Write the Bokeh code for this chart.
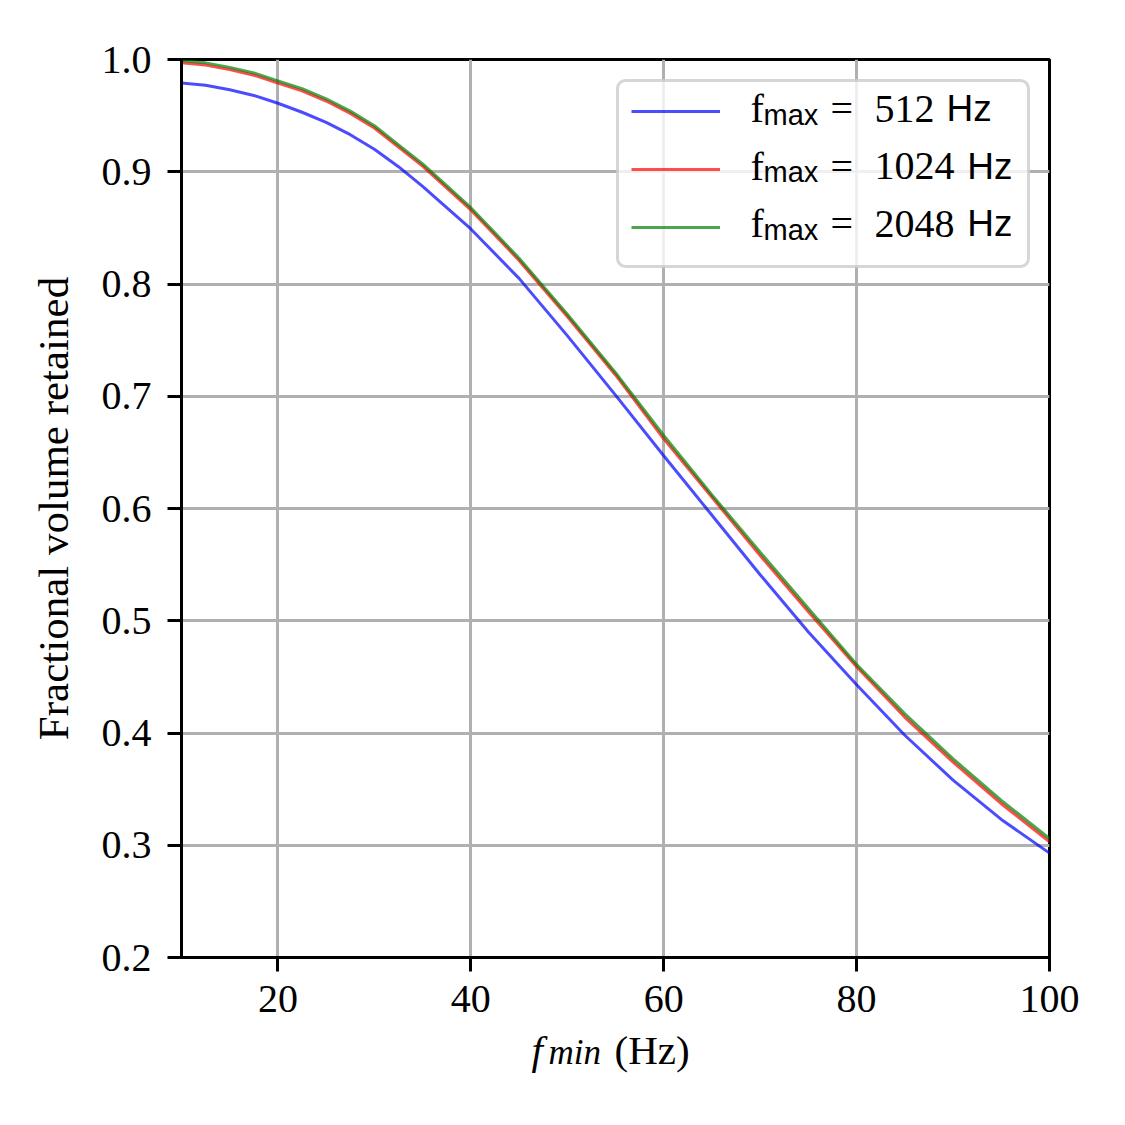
from bokeh.plotting import figure
from bokeh.layouts import column
from bokeh.models import (Range1d, FixedTicker, NumeralTickFormatter, Legend, LegendItem,
                          Label, BoxAnnotation)
from bokeh.embed import file_html
from bokeh.resources import INLINE

# ---- data ----
f_min = [10, 12.5, 15, 17.5, 20, 22.5, 25, 27.5, 30, 32.5, 35, 40, 45, 50, 55,
         60, 65, 70, 75, 80, 85, 90, 95, 100]
vol_512 = [0.979, 0.977, 0.973, 0.968, 0.961, 0.953, 0.944, 0.933, 0.920, 0.9045, 0.887,
           0.849, 0.805, 0.754, 0.701, 0.647, 0.594, 0.541, 0.490, 0.443, 0.398,
           0.358, 0.323, 0.293]
vol_1024 = [0.997, 0.995, 0.991, 0.986, 0.979, 0.972, 0.963, 0.952, 0.939, 0.922, 0.905,
            0.866, 0.821, 0.771, 0.719, 0.662, 0.610, 0.558, 0.508, 0.459, 0.414,
            0.374, 0.337, 0.303]
vol_2048 = [0.999, 0.997, 0.993, 0.988, 0.981, 0.974, 0.965, 0.954, 0.941, 0.924, 0.907,
            0.868, 0.823, 0.773, 0.721, 0.665, 0.612, 0.561, 0.511, 0.461, 0.417,
            0.377, 0.340, 0.306]
fmax_labels = ["512", "1024", "2048"]
series_colors = ["blue", "red", "green"]
x_ticks = [20, 40, 60, 80, 100]
y_ticks = [0.2, 0.3, 0.4, 0.5, 0.6, 0.7, 0.8, 0.9, 1.0]

SERIF = "Liberation Serif"
SANS = "Liberation Sans"
W = 1117

p = figure(width=W, height=1028, output_backend="svg", toolbar_location=None,
           x_range=Range1d(10, 100), y_range=Range1d(0.2, 1.0),
           min_border_left=181, min_border_right=68, min_border_top=59, min_border_bottom=71,
           background_fill_color="white", border_fill_color="white")

p.outline_line_color = "black"
p.outline_line_width = 3
p.outline_line_alpha = 1.0

for ax in (p.xaxis[0], p.yaxis[0]):
    ax.axis_line_color = "black"
    ax.axis_line_width = 3
    ax.major_tick_line_color = "black"
    ax.major_tick_line_width = 3
    ax.major_tick_out = 14
    ax.major_tick_in = 0
    ax.minor_tick_line_color = None
    ax.major_label_text_font = SERIF
    ax.major_label_text_font_size = "40px"
    ax.major_label_text_color = "black"
p.xaxis.major_label_standoff = 14
p.yaxis.major_label_standoff = 16

p.xaxis.ticker = FixedTicker(ticks=x_ticks)
p.yaxis.ticker = FixedTicker(ticks=y_ticks)
p.xaxis.formatter = NumeralTickFormatter(format="0")
p.yaxis.formatter = NumeralTickFormatter(format="0.0")

p.yaxis.axis_label = "Fractional volume retained"
p.yaxis.axis_label_text_font = SERIF
p.yaxis.axis_label_text_font_size = "43px"
p.yaxis.axis_label_text_font_style = "normal"
p.yaxis.axis_label_text_color = "black"
p.yaxis.axis_label_standoff = 22

for g in (p.xgrid[0], p.ygrid[0]):
    g.grid_line_color = "#b0b0b0"
    g.grid_line_width = 3

renderers = []
for vals, c in zip([vol_512, vol_1024, vol_2048], series_colors):
    r = p.line(f_min, vals, line_color=c, line_alpha=0.7, line_width=3)
    renderers.append(r)

# legend frame (semi-transparent, rounded), drawn over the grid
legend_box = BoxAnnotation(left=436, right=847, top=877, bottom=691,
                           left_units="screen", right_units="screen",
                           top_units="screen", bottom_units="screen",
                           fill_color="white", fill_alpha=0.8,
                           line_color="#cccccc", line_alpha=0.8, line_width=3,
                           border_radius=8, level="underlay")
p.add_layout(legend_box)

legend = Legend(items=[LegendItem(label=" ", renderers=[r]) for r in renderers],
                location=(450, 706), padding=9, spacing=10, margin=0,
                glyph_width=89, glyph_height=48, label_height=48, label_width=280,
                label_standoff=5, label_text_font_size="10px",
                border_line_color=None, background_fill_alpha=0.0)
p.add_layout(legend)

# legend texts: f_max = N Hz
for i, lab in enumerate(fmax_labels):
    base = 849 - 57.7 * i
    common = dict(x_units="screen", y_units="screen", text_baseline="alphabetic",
                  text_color="black", level="overlay")
    p.add_layout(Label(x=569, y=base, text="f", text_font=SERIF, text_font_size="40px", **common))
    p.add_layout(Label(x=582, y=base - 6, text="max", text_font=SANS, text_font_size="29px", **common))
    p.add_layout(Label(x=649, y=base, text="=", text_font=SERIF, text_font_size="40px", **common))
    p.add_layout(Label(x=693, y=base, text=lab, text_font=SERIF, text_font_size="40px", **common))
    p.add_layout(Label(x=693 + 20.7 * len(lab) + 10, y=base, text="Hz", text_font=SANS,
                       text_font_size="37px", **common))

# strip below the plot carrying the x axis title: f_min (Hz)
# (its frame is aligned with the main frame, so x is in page pixels 181..1049)
H2 = 89
p2 = figure(width=W, height=H2, output_backend="svg", toolbar_location=None,
            x_range=Range1d(181, 1049), y_range=Range1d(0, H2),
            x_axis_type=None, y_axis_type=None, min_border=0,
            background_fill_color="white", border_fill_color="white")
p2.outline_line_color = None
p2.grid.visible = False
lab_common = dict(text_baseline="alphabetic", text_color="black", text_font=SERIF)
p2.add_layout(Label(x=531, y=68, text="f", text_font_size="41px", text_font_style="italic", **lab_common))
p2.add_layout(Label(x=548, y=65, text="min", text_font_size="35px", text_font_style="italic", **lab_common))
p2.add_layout(Label(x=614, y=68, text="(Hz)", text_font_size="41px", **lab_common))

layout = column(p, p2, spacing=0)
open("out.html", "w").write(file_html(layout, INLINE))
